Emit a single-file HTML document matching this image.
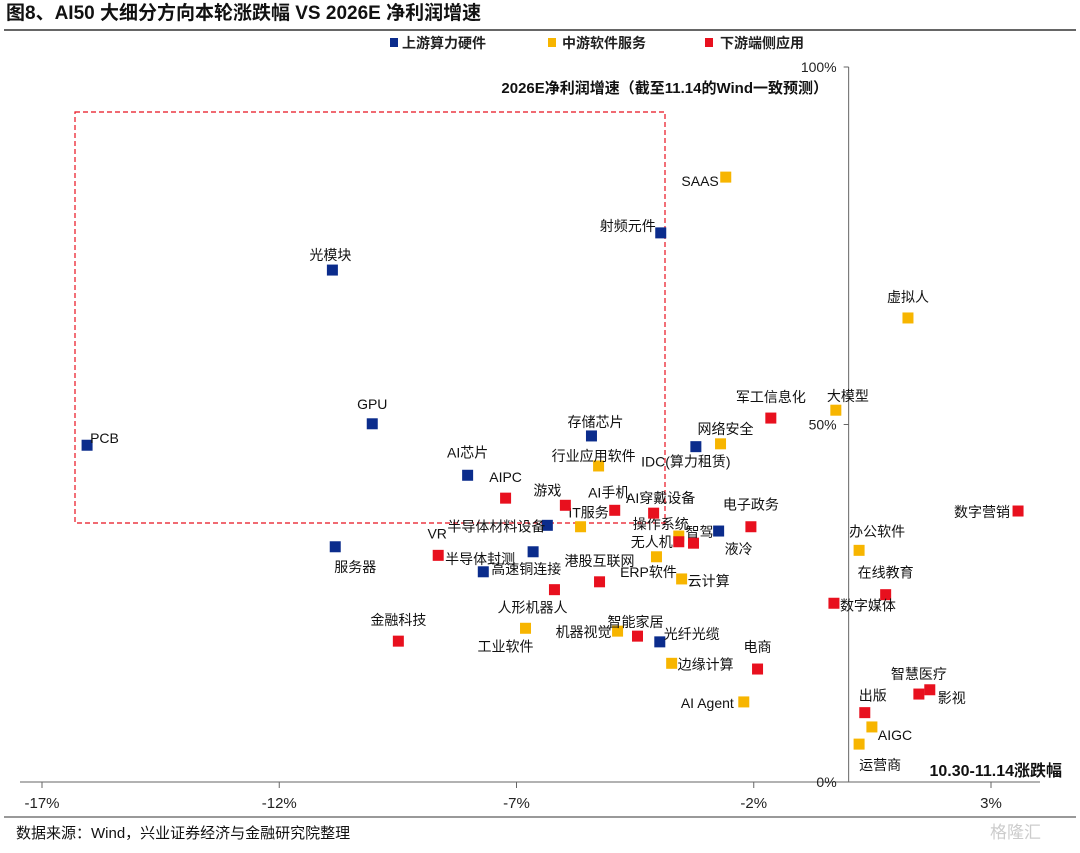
<!DOCTYPE html>
<html><head><meta charset="utf-8"><style>
body{margin:0;background:#fff;width:1080px;height:848px;overflow:hidden;font-family:"Liberation Sans","Noto Sans CJK SC",sans-serif}
svg text{font-family:"Liberation Sans","Noto Sans CJK SC",sans-serif}
</style></head><body>
<svg id="chart" width="1080" height="848" xmlns="http://www.w3.org/2000/svg">
<text x="6" y="19" font-size="19" font-weight="bold" fill="#111">图8、AI50 大细分方向本轮涨跌幅  VS 2026E 净利润增速</text>
<line x1="4" y1="30" x2="1076" y2="30" stroke="#333" stroke-width="1.5"/>
<g font-size="14" font-weight="bold" fill="#222">
<rect x="390" y="38" width="8" height="9" fill="#0b2c8c"/><text x="402" y="48">上游算力硬件</text>
<rect x="548" y="38" width="8" height="9" fill="#f7b500"/><text x="562" y="48">中游软件服务</text>
<rect x="705" y="38" width="8" height="9" fill="#e8101e"/><text x="720" y="48">下游端侧应用</text>
</g>
<g id="axes"></g>
<rect x="75" y="112" width="590" height="411" fill="none" stroke="#e8101e" stroke-width="1.2" stroke-dasharray="5,3"/>
<g id="marks"></g>
<line x1="4" y1="817" x2="1076" y2="817" stroke="#333" stroke-width="1"/>
<text x="16" y="838" font-size="15" fill="#111">数据来源：Wind，兴业证券经济与金融研究院整理</text>
<text x="990" y="838" font-size="17" fill="#ccc">格隆汇</text>
</svg>
<script>
const names=["PCB","光模块","GPU","AI芯片","服务器","半导体材料设备","半导体封测","高速铜连接","存储芯片","射频元件","IDC(算力租赁)","液冷","光纤光缆",
"SAAS","虚拟人","大模型","网络安全","行业应用软件","IT服务","操作系统","ERP软件","云计算","办公软件","工业软件","机器视觉","边缘计算","AI Agent","AIGC","运营商",
"军工信息化","数字营销","电子政务","AIPC","游戏","AI手机","AI穿戴设备","无人机","智驾","VR","港股互联网","人形机器人","智能家居","电商","金融科技","在线教育","数字媒体","智慧医疗","影视","出版"];
const groups=["up","up","up","up","up","up","up","up","up","up","up","up","up",
"mid","mid","mid","mid","mid","mid","mid","mid","mid","mid","mid","mid","mid","mid","mid","mid",
"down","down","down","down","down","down","down","down","down","down","down","down","down","down","down","down","down","down","down","down"];
const returnsPct=[-16.05,-10.88,-10.04,-8.03,-10.82,-6.35,-6.65,-7.7,-5.42,-3.96,-3.22,-2.74,-3.98,
-2.59,1.25,-0.27,-2.7,-5.27,-5.65,-3.58,-4.05,-3.52,0.22,-6.81,-4.87,-3.73,-2.21,0.49,0.22,
-1.64,3.57,-2.06,-7.23,-5.97,-4.93,-4.11,-3.58,-3.27,-8.65,-5.25,-6.2,-4.45,-1.92,-9.49,0.78,-0.31,1.48,1.71,0.34];
const growthPct=[47.1,71.6,50.1,42.9,32.9,35.9,32.2,29.4,48.4,76.8,46.9,35.1,19.6,
84.6,64.9,52.0,47.3,44.2,35.7,34.4,31.5,28.4,32.4,21.5,21.1,16.6,11.2,7.7,5.3,
50.9,37.9,35.7,39.7,38.7,38.0,37.6,33.6,33.4,31.7,28.0,26.9,20.4,15.8,19.7,26.2,25.0,12.3,12.9,9.7];
const xTicks=[-17,-12,-7,-2,3];
const yTicks=[0,50,100];
// label layout (anchor, dx, dy) — presentation only
const labelLayout=[["start",3,-7],["middle",-2,-15],["middle",0,-20],["middle",0,-23],["middle",20,20],["end",-2,1],["end",-18,7],["start",8,-3],["middle",4,-14],["end",-5,-7],["middle",-10,15],["middle",20,18],["start",4,-8],
["end",-7,4],["middle",0,-21],["middle",12,-14],["middle",5,-15],["middle",-5,-10],["middle",8,-14],["end",10,-12],["middle",-8,15],["start",6,2],["middle",18,-19],["middle",-20,18],["end",-6,1],["start",6,1],["end",-10,1],["start",6,8],["start",0,21],
["middle",0,-21],["end",-8,1],["middle",0,-22],["middle",0,-21],["middle",-18,-15],["middle",-6,-18],["middle",7,-15],["end",-6,0],["start",-8,-11],["middle",-1,-22],["middle",0,-21],["middle",-22,18],["middle",-2,-14],["middle",0,-22],["middle",0,-21],["middle",0,-22],["start",6,2],["middle",0,-20],["start",8,8],["middle",8,-17]];
const colors={up:"#0b2c8c",mid:"#f7b500",down:"#e8101e"};
const NS="http://www.w3.org/2000/svg";
function xs(v){return 42+(v+17)*47.45;}
function ys(v){return 782-v*7.15;}
function mk(tag,attrs,parent){const e=document.createElementNS(NS,tag);for(const k in attrs)e.setAttribute(k,attrs[k]);parent.appendChild(e);return e;}
const axes=document.getElementById('axes');
let e=mk('line',{x1:20,y1:782,x2:1040,y2:782,stroke:'#666','stroke-width':1},axes);


xTicks.forEach(t=>{
 let l=mk('line',{x1:xs(t),y1:782,x2:xs(t),y2:788,stroke:'#666'},axes);
 
 
 let tx=mk('text',{x:xs(t),y:808,'font-size':15,'text-anchor':'middle',fill:'#222'},axes);tx.textContent=t+'%';
 
 
});
e=mk('line',{x1:xs(0),y1:ys(100),x2:xs(0),y2:782,stroke:'#666','stroke-width':1},axes);


yTicks.forEach(t=>{
 let l=mk('line',{x1:xs(0)-5,y1:ys(t),x2:xs(0),y2:ys(t),stroke:'#666'},axes);
 
 
 let tx=mk('text',{x:xs(0)-12,y:ys(t)+5,'font-size':14,'text-anchor':'end',fill:'#222'},axes);tx.textContent=t+'%';
 
 
});
e=mk('text',{x:828,y:93,'font-size':15,'text-anchor':'end',fill:'#111','font-weight':'bold'},axes);e.textContent='2026E净利润增速（截至11.14的Wind一致预测）';


e=mk('text',{x:1062,y:776,'font-size':16,'text-anchor':'end',fill:'#111','font-weight':'bold'},axes);e.textContent='10.30-11.14涨跌幅';


const marks=document.getElementById('marks');
names.forEach((n,i)=>{
 const px=xs(returnsPct[i]),py=ys(growthPct[i]);
 const r=mk('rect',{x:px-5.5,y:py-5.5,width:11,height:11,fill:colors[groups[i]]},marks);
 
 
 const L=labelLayout[i];
 const t=mk('text',{x:px+L[1],y:py+L[2]+5,'font-size':14,'text-anchor':L[0],fill:'#111'},marks);
 t.textContent=n;
 
 
});
</script>
</body></html>
